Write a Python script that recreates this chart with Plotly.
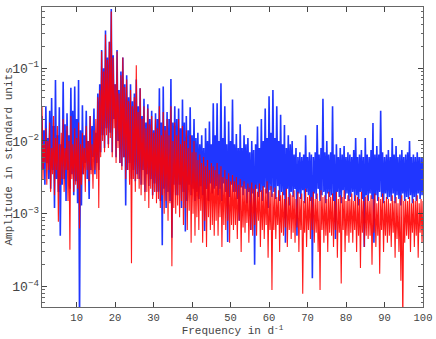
import numpy as np
import plotly.graph_objects as go

# amplitudes in units of 1e-3; "hi" samples at f = 1.0, 1.5, ... 100.0,
# "lo" samples in between (f = 1.25, 1.75, ... 99.75)
blue_hi = [
    22, 14, 30, 11, 26, 39, 16, 69, 12, 29,
    9, 65, 17, 24, 12, 54, 26, 56, 20, 69,
    14, 31, 12, 26, 10, 22, 16, 28, 13, 45,
    60, 178, 100, 330, 140, 230, 650, 150, 60, 178,
    50, 90, 140, 60, 80, 40, 60, 35, 45, 70,
    30, 53, 22, 38, 18, 32, 20, 26, 14, 24,
    20, 53, 18, 56, 16, 25, 20, 71, 18, 30,
    20, 28, 15, 37, 18, 22, 14, 29, 12, 20,
    11, 13, 9, 12, 8, 15, 10, 18.5, 9, 33,
    12, 33, 10, 62, 11, 30, 9, 18.5, 10, 37,
    9, 12.5, 8, 17, 8, 12, 9, 11, 7, 10,
    7.5, 9, 15.8, 8, 20, 10, 28, 11, 41, 13,
    50, 11, 30, 10, 23, 9, 16.6, 8, 12, 9,
    10, 6.5, 8, 6, 7, 6, 6.5, 12, 6, 7,
    6.5, 6, 7, 16.6, 6.5, 8, 38, 7, 10, 6.5,
    7, 30, 6.5, 9, 6, 8, 6.5, 8.5, 6, 7,
    6.5, 6, 7.5, 11, 6, 6.5, 7.5, 6, 11, 6.5,
    6, 7.5, 17.6, 6.5, 8.5, 6.5, 26, 7, 6, 6.5,
    7.5, 6, 11, 6.5, 8.5, 6, 6.5, 7.5, 6, 6.5,
    7, 10, 6, 6.5, 6, 7, 6, 6, 6,
]
blue_lo = [
    4, 2.5, 5, 3, 2.2, 4, 1.2, 3, 2, 0.5,
    2.5, 3, 1.5, 4, 2.2, 3.5, 1.8, 2.8, 1.4, 0.03,
    1.3, 3.5, 5, 3, 1.6, 4, 6, 3.5, 5, 4,
    7, 12, 8, 15, 9, 13, 7, 20, 6, 10,
    5, 4.5, 6, 1.3, 4, 5, 3, 4, 2.8, 3.5,
    3, 2.5, 4, 2, 3.5, 2.4, 3, 1.8, 2.6, 2,
    2, 1.5, 0.37, 2.2, 1.2, 2, 1.5, 0.47, 2.5, 1.8,
    1.8, 2.5, 1.2, 2, 0.57, 1.5, 2.5, 1.8, 2.2, 1.5,
    2, 1.6, 2.4, 1.8, 0.58, 2.2, 1.5, 2.6, 1.9, 2.2,
    2.4, 1.8, 2.2, 1.5, 2.6, 2, 0.41, 1.7, 2.5, 2,
    2, 1.6, 0.8, 2.3, 1.8, 2.2, 1.4, 2, 0.6, 1.9,
    0.2, 2.2, 1.7, 2, 1.5, 2.3, 1.9, 1.2, 2.1, 1.7,
    2, 1.6, 2.4, 1.5, 2, 1.8, 0.4, 2.2, 1.3, 2,
    1.7, 2.2, 0.5, 1.9, 1.6, 2.1, 1.4, 2, 1.8, 1.5,
    0.13, 1.9, 1.6, 2.2, 1.5, 1.8, 2, 1.4, 1.9, 1.7,
    1.8, 1.5, 0.45, 2, 1.7, 1.4, 2.1, 1.6, 1.9, 1.5,
    1.7, 2, 1.5, 1.8, 1.3, 2, 1.6, 0.35, 1.8, 1.5,
    1.9, 1.6, 0.4, 1.8, 1.5, 2, 1.7, 1.4, 1.9, 1.6,
    1.7, 1.5, 1.9, 1.4, 1.8, 1.6, 1.3, 1.9, 1.5, 1.7,
    1.6, 1.8, 1.4, 1.7, 1.5, 1.9, 1.6, 1.8,
]
red_hi = [
    30, 9, 15, 10, 18, 8, 22, 11, 16, 9,
    13, 20, 8, 16, 10, 22, 9, 15, 11, 18,
    9, 13, 8, 16, 10, 22, 9, 14, 20, 40,
    50, 170, 90, 290, 130, 230, 600, 140, 60, 170,
    45, 80, 140, 55, 70, 35, 50, 30, 40, 110,
    25, 53, 20, 30, 15, 28, 17, 22, 13, 20,
    15, 30, 12, 25, 14, 20, 12, 30, 10, 18,
    12, 20, 9, 16, 10, 14, 8, 12, 7, 10,
    7, 5.5, 6.5, 5, 6, 4.5, 5.5, 4, 5, 4.5,
    4, 5, 3.5, 4.5, 3.2, 4, 3, 3.6, 2.8, 3.4,
    2.8, 3.2, 2.5, 3, 2.4, 2.8, 2.2, 2.6, 2.3, 2.7,
    2.2, 2.5, 2, 2.6, 2.1, 2.4, 2.2, 2.8, 2, 2.4,
    1.9, 2.3, 1.7, 2.1, 1.8, 2.0, 1.6, 2.2, 1.7, 1.9,
    1.8, 2.1, 1.6, 2.0, 1.7, 1.9, 1.5, 2.2, 1.7, 1.8,
    1.7, 2.0, 1.6, 1.9, 1.5, 2.1, 1.7, 1.8, 1.6, 2.0,
    1.7, 1.9, 1.5, 2.0, 1.6, 1.8, 1.7, 2.1, 1.5, 1.8,
    1.6, 1.9, 1.5, 1.8, 1.7, 1.6, 2.0, 1.5, 1.7, 1.8,
    1.5, 1.8, 1.6, 1.9, 1.4, 1.7, 1.6, 1.9, 1.5, 1.7,
    1.6, 1.4, 1.8, 1.5, 1.7, 1.4, 1.6, 1.8, 1.5, 1.6,
    1.5, 1.7, 1.4, 1.6, 1.5, 1.8, 1.4, 1.6, 1.5,
]
red_lo = [
    3, 5, 2.5, 4, 2, 3.5, 1.8, 4, 0.78, 2.5,
    3, 2, 4, 1.5, 0.32, 3, 2, 2.5, 2.2, 0.63,
    2.5, 3.5, 2, 4, 2.8, 3.5, 2.2, 4, 3, 1.2,
    6, 10, 7, 12, 8, 11, 6, 15, 5, 8,
    5, 4, 6, 3, 4, 2.5, 0.21, 3, 2, 3,
    2.2, 1.8, 2.5, 1.5, 2, 1.2, 2.2, 1.6, 2, 1.4,
    1.6, 1.2, 1.8, 1, 1.5, 0.8, 1.4, 0.19, 1.2, 1,
    1.3, 0.9, 1.5, 0.7, 1.2, 0.6, 1.1, 0.4, 1, 0.5,
    0.9, 0.6, 1.1, 0.4, 0.8, 0.35, 0.9, 0.6, 0.7, 0.5,
    0.8, 0.5, 0.9, 0.35, 0.7, 0.6, 0.8, 0.4, 0.7, 0.6,
    0.7, 0.45, 0.8, 0.3, 0.65, 0.55, 0.75, 0.4, 0.6, 0.5,
    0.7, 0.5, 0.8, 0.35, 0.6, 0.45, 0.7, 0.25, 0.6, 0.09,
    0.6, 0.45, 0.7, 0.3, 0.55, 0.5, 0.65, 0.35, 0.6, 0.45,
    0.55, 0.4, 0.65, 0.3, 0.6, 0.08, 0.55, 0.35, 0.6, 0.45,
    0.6, 0.4, 0.55, 0.3, 0.09, 0.6, 0.4, 0.5, 0.3, 0.55,
    0.5, 0.35, 0.6, 0.25, 0.55, 0.11, 0.6, 0.3, 0.5, 0.4,
    0.55, 0.4, 0.6, 0.3, 0.5, 0.18, 0.55, 0.35, 0.5, 0.45,
    0.5, 0.2, 0.55, 0.35, 0.5, 0.15, 0.6, 0.3, 0.5, 0.4,
    0.5, 0.35, 0.55, 0.25, 0.45, 0.3, 0.12, 0.03, 0.4, 0.5,
    0.45, 0.3, 0.55, 0.35, 0.5, 0.25, 0.55, 0.4,
]

f_hi = 1.0 + 0.5 * np.arange(len(blue_hi))
f_lo = f_hi[:-1] + 0.25


def weave(hi, lo):
    x = np.empty(len(hi) + len(lo))
    y = np.empty(len(hi) + len(lo))
    x[0::2], x[1::2] = f_hi, f_lo
    y[0::2], y[1::2] = np.array(hi) * 1e-3, np.array(lo) * 1e-3
    return x, y


bx, by = weave(blue_hi, blue_lo)
rx, ry = weave(red_hi, red_lo)

fig = go.Figure()
fig.add_trace(go.Scatter(x=bx, y=by, mode='lines', line=dict(color='#2036ff', width=1.6)))
fig.add_trace(go.Scatter(x=rx, y=ry, mode='lines', line=dict(color='rgba(255,0,0,0.9)', width=1.1)))

font = dict(family='Liberation Mono, Courier New, monospace', size=10.5, color='#444')
fig.update_layout(
    width=436, height=339, showlegend=False,
    margin=dict(l=42, r=13, t=7, b=32),
    plot_bgcolor='white', paper_bgcolor='white', font=font,
)
fig.update_xaxes(range=[1, 100], dtick=10, tick0=0, ticks='inside', ticklen=5,
                 mirror='allticks', showline=True, linecolor='#666', linewidth=1,
                 showgrid=False, zeroline=False, automargin=False,
                 title=dict(text='Frequency in d<sup>-1</sup>', standoff=0, font=dict(size=11)))
fig.update_yaxes(type='log', range=[-4.28, -0.16], dtick=1, exponentformat='power',
                 ticks='inside', ticklen=5, mirror='allticks', showline=True,
                 linecolor='#666', linewidth=1, showgrid=False, zeroline=False, automargin=False,
                 minor=dict(ticks='inside', ticklen=2.5, dtick='D1', showgrid=False, tickcolor='#666'))

# y title as an annotation so it sits left of the tick labels
fig.add_annotation(text='Amplitude in standard units', textangle=-90, showarrow=False,
                   xref='paper', yref='paper', x=-33.5 / 381, y=0.5,
                   xanchor='center', yanchor='middle', font=dict(size=11))

# drop the default page margin so the figure fills the window from its corner
fig.write_html('out.html', config={'displayModeBar': False},
               post_script="document.body.style.margin='0';")
